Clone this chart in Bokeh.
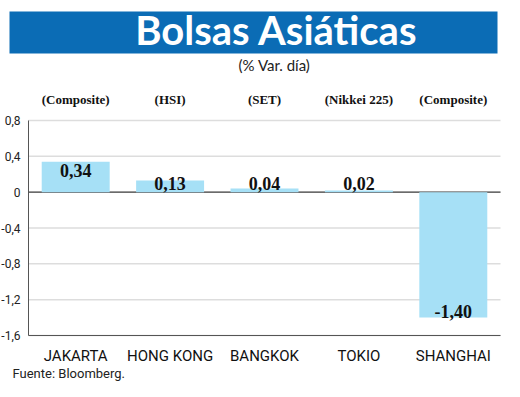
from bokeh.plotting import figure
from bokeh.models import (Range1d, FixedTicker, LinearAxis, CustomJSTickFormatter, ColumnDataSource)
from bokeh.core.properties import value
from bokeh.embed import file_html
from bokeh.resources import INLINE

cities = ["JAKARTA", "HONG KONG", "BANGKOK", "TOKIO", "SHANGHAI"]
indices = ["(Composite)", "(HSI)", "(SET)", "(Nikkei 225)", "(Composite)"]
values = [0.34, 0.13, 0.04, 0.02, -1.40]
yticks = [-1.6, -1.2, -0.8, -0.4, 0, 0.4, 0.8]

BLUE = "#0b6cb5"
BAR = "#a6e0f6"
SANS = "Roboto"

W, H = 504, 381
# chart area in canvas pixels
CL, CR, CT, CB = 28, 500, 120, 335
n = len(cities)
ymin, ymax = yticks[0], yticks[-1]
ppx = (CR - CL) / n
ppy = (CB - CT) / (ymax - ymin)

p = figure(width=W, height=H, output_backend="svg", toolbar_location=None,
           x_range=Range1d(0, W), y_range=Range1d(H, 0),
           min_border=0, outline_line_color=None,
           x_axis_location=None, y_axis_location=None)
p.grid.visible = False
p.extra_x_ranges = {"vx": Range1d(-CL / ppx, n + (W - CR) / ppx)}
p.extra_y_ranges = {"vy": Range1d(ymin - (H - CB) / ppy, ymax + CT / ppy)}

# ---------------- header ----------------
p.quad(left=[9], right=[497], top=[11], bottom=[53], fill_color=BLUE, line_color=None)
p.text(x=[276], y=[29], text=["Bolsas Asiáticas"], text_align="center", text_baseline="middle",
       text_font=value("Lato"), text_font_style="bold", text_font_size="40px", text_color="white")
p.text(x=[274], y=[64], text=["(% Var. día)"], text_align="center", text_baseline="middle",
       text_font=value("Lato"), text_font_size="15px", text_color="#222222")

# ---------------- chart ----------------
xs = [i + 0.5 for i in range(n)]
label_y = [max(v - 0.1, 0.1) if v >= 0 else v + 0.07 for v in values]
label_txt = [f"{v:.2f}".replace(".", ",") for v in values]
src = ColumnDataSource(dict(x=xs, top=values, ly=label_y, txt=label_txt))

# grid lines and zero line
p.segment(x0=[0] * len(yticks), x1=[n] * len(yticks), y0=yticks, y1=yticks,
          line_color="#dddddd", line_width=1.5, x_range_name="vx", y_range_name="vy")
p.segment(x0=[0], x1=[n], y0=[0], y1=[0], line_color="#444444", line_width=1.2,
          x_range_name="vx", y_range_name="vy")

p.vbar(x="x", top="top", bottom=0, width=0.72, source=src, fill_color=BAR, line_color=None,
       x_range_name="vx", y_range_name="vy")
p.text(x="x", y="ly", text="txt", source=src, text_align="center", text_baseline="middle",
       text_font=value("Liberation Serif"), text_font_style="bold", text_font_size="18px",
       text_color="#111111", x_range_name="vx", y_range_name="vy")

yax = LinearAxis(x_range_name="vx", y_range_name="vy", fixed_location=0,
                 ticker=FixedTicker(ticks=yticks), bounds=(ymin, ymax))
yax.formatter = CustomJSTickFormatter(code="if (Math.abs(tick) < 1e-9) return '0'; return tick.toFixed(1).replace('.', ',');")
yax.major_tick_line_color = None
yax.minor_tick_line_color = None
yax.axis_line_color = "#555555"
yax.major_label_text_font = SANS
yax.major_label_text_font_size = "12px"
yax.major_label_text_color = "#222222"
yax.major_label_standoff = 2
p.add_layout(yax, "left")

xax = LinearAxis(x_range_name="vx", y_range_name="vy", fixed_location=ymin,
                 ticker=FixedTicker(ticks=xs), bounds=(0, n))
xax.major_label_overrides = {x: c for x, c in zip(xs, cities)}
xax.major_tick_line_color = None
xax.minor_tick_line_color = None
xax.axis_line_color = "#555555"
xax.major_label_text_font = SANS
xax.major_label_text_font_size = "15px"
xax.major_label_text_color = "#111111"
xax.major_label_standoff = 5
p.add_layout(xax, "below")

tax = LinearAxis(x_range_name="vx", y_range_name="vy", fixed_location=ymax,
                 ticker=FixedTicker(ticks=xs), bounds=(0, n))
tax.major_label_overrides = {x: c for x, c in zip(xs, indices)}
tax.major_tick_line_color = None
tax.minor_tick_line_color = None
tax.axis_line_color = None
tax.major_label_text_font = "Liberation Serif"
tax.major_label_text_font_style = "bold"
tax.major_label_text_font_size = "13px"
tax.major_label_text_color = "#111111"
tax.major_label_standoff = 8
p.add_layout(tax, "above")

# ---------------- footer ----------------
p.text(x=[12], y=[373], text=["Fuente: Bloomberg."], text_align="left", text_baseline="middle",
       text_font=value(SANS), text_font_size="13px", text_color="#222222")

open("out.html", "w").write(file_html(p, INLINE))
